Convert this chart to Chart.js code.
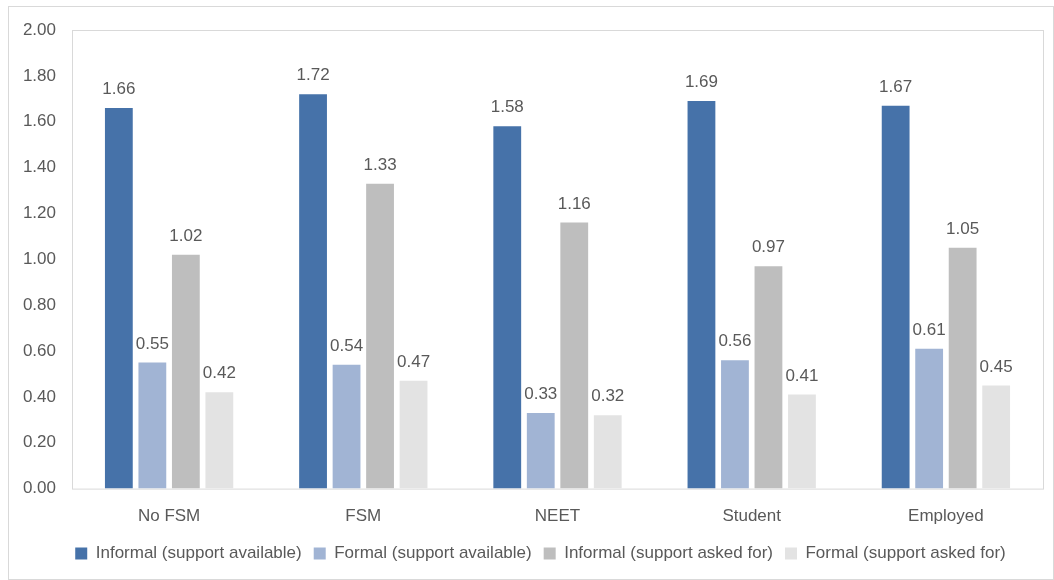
<!DOCTYPE html>
<html>
<head>
<meta charset="utf-8">
<script src="https://cdn.jsdelivr.net/npm/chart.js@4"></script>
<style>
  body { margin: 0; background: #fff; }
  #frame { position: absolute; left: 8px; top: 6px; width: 1046px; height: 574px; border: 1px solid #d9d9d9; box-sizing: border-box; }
  #wrap { position: absolute; left: 0; top: 0; width: 1054px; height: 580px; }
</style>
</head>
<body>
<div id="frame"></div>
<div id="wrap"><canvas id="grafico"></canvas></div>
<script>
// categorias e séries
const categorias = ['No FSM', 'FSM', 'NEET', 'Student', 'Employed'];
const informalDisponivel = [1.66, 1.72, 1.58, 1.69, 1.67];
const formalDisponivel = [0.55, 0.54, 0.33, 0.56, 0.61];
const informalPedido = [1.02, 1.33, 1.16, 0.97, 1.05];
const formalPedido = [0.42, 0.47, 0.32, 0.41, 0.45];
const ticksY = [0, 0.2, 0.4, 0.6, 0.8, 1.0, 1.2, 1.4, 1.6, 1.8, 2.0];

const fonte = 'Liberation Sans';
const corTexto = '#595959';

// caixa em volta da área do gráfico
const caixaArea = {
  id: 'caixaArea',
  beforeDraw(chart) {
    const a = chart.chartArea;
    const ctx = chart.ctx;
    ctx.save();
    ctx.strokeStyle = '#d9d9d9';
    ctx.lineWidth = 1;
    ctx.strokeRect(a.left + 0.5, a.top + 0.5, a.right - a.left, a.bottom - a.top);
    ctx.restore();
  }
};

// legenda um pouco para a direita, como no original
const moverLegenda = {
  id: 'moverLegenda',
  afterLayout(chart) {
    chart.legend.left += 19;
    chart.legend.right += 19;
  }
};

// rótulos de valores em cima das barras
const rotulosValores = {
  id: 'rotulosValores',
  afterDatasetsDraw(chart) {
    const ctx = chart.ctx;
    ctx.save();
    ctx.font = '17px "' + fonte + '"';
    ctx.fillStyle = corTexto;
    ctx.textAlign = 'center';
    ctx.textBaseline = 'bottom';
    chart.data.datasets.forEach((ds, i) => {
      chart.getDatasetMeta(i).data.forEach((bar, j) => {
        ctx.fillText(ds.data[j].toFixed(2), bar.x, bar.y - 10);
      });
    });
    ctx.restore();
  }
};

const data = {
  labels: categorias,
  datasets: [
    { label: 'Informal (support available)', data: informalDisponivel, backgroundColor: '#4672A9' },
    { label: 'Formal (support available)', data: formalDisponivel, backgroundColor: '#A1B4D4' },
    { label: 'Informal (support asked for)', data: informalPedido, backgroundColor: '#BEBEBE' },
    { label: 'Formal (support asked for)', data: formalPedido, backgroundColor: '#E3E3E3' }
  ]
};

const config = {
  type: 'bar',
  data: data,
  options: {
    responsive: false,
    animation: false,
    datasets: { bar: { categoryPercentage: 0.69, barPercentage: 0.83 } },
    layout: { padding: { left: 0, right: 11, top: 30, bottom: 8 } },
    plugins: {
      legend: {
        position: 'bottom',
        labels: {
          font: { family: fonte, size: 17 },
          color: corTexto,
          boxWidth: 12,
          boxHeight: 12,
          padding: 12
        }
      },
      tooltip: { enabled: false }
    },
    scales: {
      x: {
        afterFit(scale) { scale.height = scale.height - 12; },
        grid: { display: false, drawTicks: false },
        border: { display: false },
        ticks: { font: { family: fonte, size: 17 }, color: corTexto, padding: 18 }
      },
      y: {
        min: 0,
        max: 2,
        afterFit(scale) { scale.width = 72; },
        afterBuildTicks(scale) { scale.ticks = ticksY.map(v => ({ value: v })); },
        grid: { display: false, drawTicks: false },
        border: { display: false },
        ticks: {
          font: { family: fonte, size: 17 },
          color: corTexto,
          padding: 16,
          callback: v => Number(v).toFixed(2)
        }
      }
    }
  },
  plugins: [caixaArea, moverLegenda, rotulosValores]
};

const canvas = document.getElementById('grafico');
canvas.width = 1054;
canvas.height = 580;
new Chart(canvas, config);
</script>
</body>
</html>
